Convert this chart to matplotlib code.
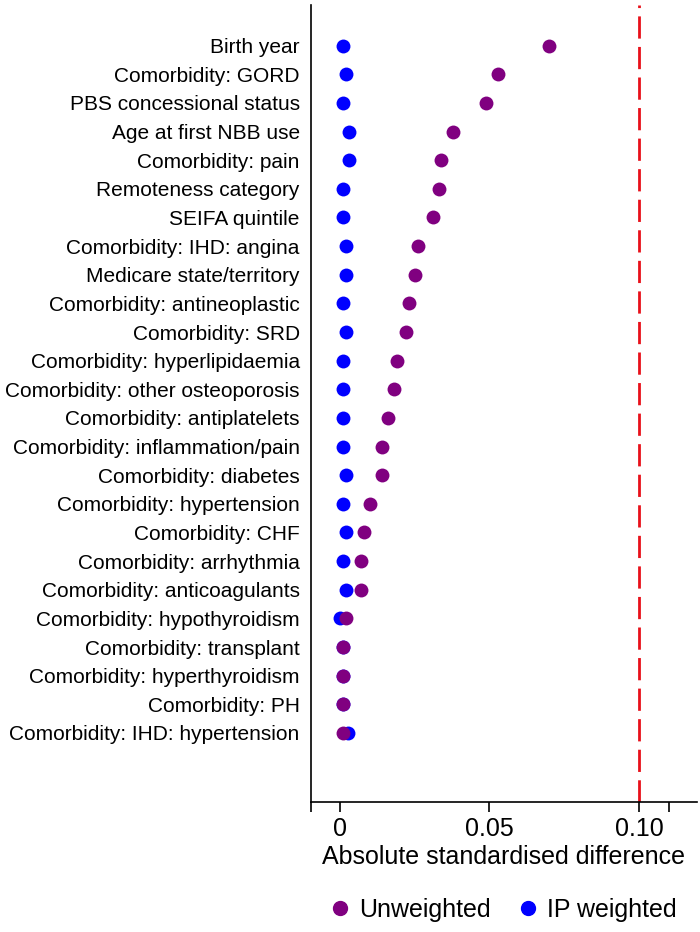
import numpy as np
import matplotlib.pyplot as plt
from matplotlib.lines import Line2D

plt.rcParams['font.family'] = ['Liberation Sans', 'DejaVu Sans']

# covariables, de arriba abajo
variables = [
    "Birth year", "Comorbidity: GORD", "PBS concessional status",
    "Age at first NBB use", "Comorbidity: pain", "Remoteness category",
    "SEIFA quintile", "Comorbidity: IHD: angina", "Medicare state/territory",
    "Comorbidity: antineoplastic", "Comorbidity: SRD",
    "Comorbidity: hyperlipidaemia", "Comorbidity: other osteoporosis",
    "Comorbidity: antiplatelets", "Comorbidity: inflammation/pain",
    "Comorbidity: diabetes", "Comorbidity: hypertension", "Comorbidity: CHF",
    "Comorbidity: arrhythmia", "Comorbidity: anticoagulants",
    "Comorbidity: hypothyroidism", "Comorbidity: transplant",
    "Comorbidity: hyperthyroidism", "Comorbidity: PH",
    "Comorbidity: IHD: hypertension",
]

sin_peso = [0.070, 0.053, 0.049, 0.038, 0.034, 0.033, 0.031, 0.026, 0.025,
            0.023, 0.022, 0.019, 0.018, 0.016, 0.014, 0.014, 0.010, 0.008,
            0.007, 0.007, 0.002, 0.001, 0.001, 0.001, 0.001]
con_peso = [0.001, 0.002, 0.001, 0.003, 0.003, 0.001, 0.001, 0.002, 0.002,
            0.001, 0.002, 0.001, 0.001, 0.001, 0.001, 0.002, 0.001, 0.002,
            0.001, 0.002, 0.0002, 0.001, 0.001, 0.001, 0.0028]

umbral = 0.10

y = np.arange(len(variables))[::-1]

fig = plt.figure(figsize=(7, 9.32), dpi=100)
ax = fig.add_axes([0.444, 0.1395, 0.552, 0.8555])

ax.axvline(umbral, color='#e8101a', lw=2, dashes=(8, 3), zorder=1)
ax.scatter(con_peso, y, s=100, color='#0000ff', zorder=2, linewidths=0)
ax.scatter(sin_peso, y, s=100, color='#800080', zorder=3, linewidths=0)

ax.set_yticks(y)
ax.set_yticklabels(variables, fontsize=15)
ax.tick_params(axis='y', length=0, pad=8)
ax.set_ylim(-2.41, 25.43)

ax.set_xlim(-0.0097, 0.1195)
ax.set_xticks([-0.0097, 0, 0.05, 0.10, 0.11])
ax.set_xticklabels(["", "0", "0.05", "0.10", ""], fontsize=18)
ax.tick_params(axis='x', length=7, width=1.2, pad=4)
ax.set_xlabel("Absolute standardised difference", fontsize=18, labelpad=3)

for lado in ['top', 'right']:
    ax.spines[lado].set_visible(False)
ax.spines['left'].set_linewidth(1.2)
ax.spines['bottom'].set_linewidth(1.2)

handles = [
    Line2D([], [], marker='o', ls='', color='#800080', markersize=10),
    Line2D([], [], marker='o', ls='', color='#0000ff', markersize=10),
]
fig.legend(handles, ["Unweighted", "IP weighted"], loc='center',
           bbox_to_anchor=(0.717, 0.0236), bbox_transform=fig.transFigure,
           ncol=2, frameon=False, fontsize=18, handlelength=1.0,
           handletextpad=0.26, columnspacing=1.0)

fig.savefig("out.png", dpi=100)
